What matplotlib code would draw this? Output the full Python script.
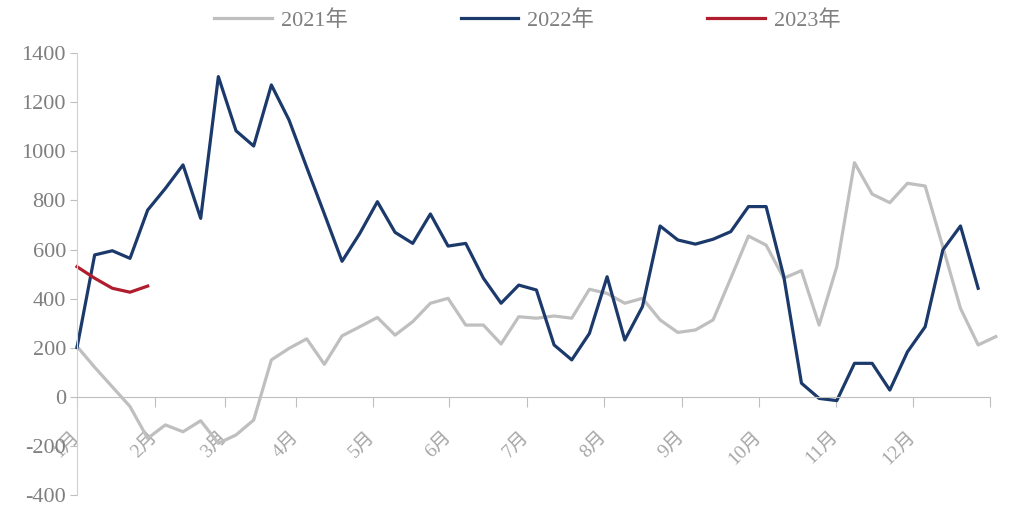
import numpy as np
import matplotlib.pyplot as plt

# weekly values
y2021 = [205, 120, 40, -40, -170, -115, -143, -98, -190, -156, -95, 150, 197,
         236, 132, 248, 285, 323, 251, 306, 381, 401, 292, 292, 215, 326,
         320, 329, 320, 438, 421, 381, 401, 313, 262, 272, 313, 483, 655,
         618, 483, 514, 292, 530, 954, 826, 791, 870, 859, 611, 360, 211, 245]
y2022 = [200, 578, 595, 564, 761, 849, 945, 727, 1305, 1084, 1022, 1271, 1128,
         935, 745, 552, 665, 795, 670, 625, 745, 614, 625, 483, 381, 455,
         435, 211, 150, 258, 489, 231, 367, 696, 639, 622, 642, 673, 775,
         775, 490, 55, -7, -16, 136, 136, 27, 183, 285, 598, 696, 442]
y2023 = [530, 483, 442, 426, 451]

months = ['1月', '2月', '3月', '4月', '5月', '6月', '7月', '8月', '9月', '10月', '11月', '12月']
month_pos = [0, 4.41, 8.38, 12.4, 16.75, 21.05, 25.46, 29.8, 34.24, 38.6, 42.95, 47.3]
x_end = 51.67

fam = ['Liberation Serif', 'Noto Sans CJK SC']
plt.rcParams['font.family'] = fam
plt.rcParams['axes.unicode_minus'] = False

fig = plt.figure(figsize=(10.12, 5.07), dpi=100)
ax = fig.add_axes([77 / 1012, 1 - 494.8 / 507, (990 - 77) / 1012, (494.8 - 53.3) / 507])

ax.plot(np.arange(len(y2021)), y2021, color='#BFBFBF', lw=2.3, label='2021年', clip_on=False)
ax.plot(np.arange(len(y2022)), y2022, color='#1B3A6B', lw=2.3, label='2022年', clip_on=False)
ax.plot(np.arange(len(y2023)), y2023, color='#B01E2E', lw=2.3, label='2023年', clip_on=False)

# spines first: moving a spine resets the tick settings
for s in ['top', 'right']:
    ax.spines[s].set_visible(False)
ax.spines['bottom'].set_position(('data', 0))
ax.spines['bottom'].set_color('#BFBFBF')
ax.spines['left'].set_color('#D0D0D0')

ax.set_xlim(0, x_end)
ax.set_ylim(-400, 1400)
ax.set_yticks(np.arange(-400, 1401, 200))
ax.tick_params(axis='y', direction='out', length=5, color='#BFBFBF',
               labelsize=16, labelcolor='#7F7F7F', pad=3)

ax.tick_params(axis='x', direction='out', length=7, color='#BFBFBF',
               labelsize=14, labelcolor='#A6A6A6', pad=20)
ax.set_xticks(month_pos + [x_end])
ax.set_xticklabels(months + [''], rotation=45, ha='right', va='center',
                   rotation_mode='anchor')

fig.legend(loc='center', bbox_to_anchor=(0.521, 0.96), ncol=3, frameon=False,
           fontsize=16, handlelength=2.6, handletextpad=0.4, columnspacing=5.1,
           labelcolor='#7F7F7F')

fig.savefig('out.png', dpi=100)
